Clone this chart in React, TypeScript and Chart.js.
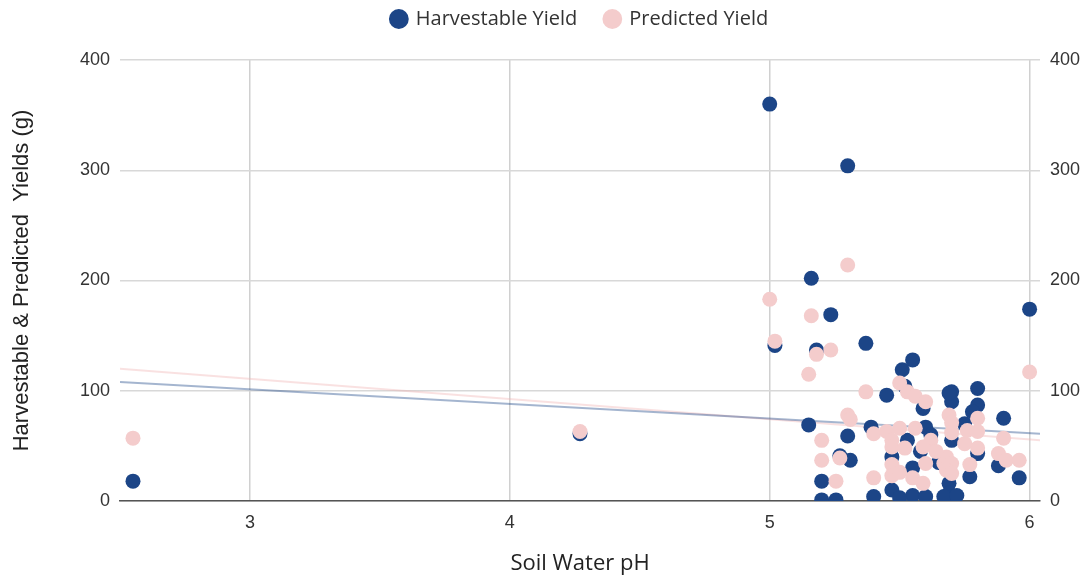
import React, { useEffect, useRef } from "react";
import { Chart, registerables } from "chart.js";

Chart.register(...registerables);

// Harvestable Yield (blue)
const harvestPH = [
  2.55, 4.27, 5.0, 5.3, 5.16, 5.02, 5.18, 5.235, 5.37, 5.15, 5.3, 5.31, 5.27, 5.2, 5.2, 5.255,
  5.4, 5.39, 5.45, 5.52, 5.51, 5.55, 5.59, 5.47, 6.0, 5.9, 5.96, 5.88, 5.7, 5.8,
  5.8, 5.7, 5.78, 5.6, 5.7, 5.8, 5.77, 5.55, 5.55, 5.6, 5.69, 5.69, 5.71, 5.67, 5.72, 5.5,
  5.47, 5.53, 5.69, 5.62, 5.58, 5.75, 5.65
];
const harvestYield = [
  18, 61, 360, 304, 202, 141, 137, 169, 143, 69, 59, 37, 41, 18, 1, 1,
  4, 67, 96, 104, 119, 128, 84, 10, 174, 75, 21, 32, 99, 102,
  87, 90, 81, 67, 55, 43, 22, 30, 5, 4, 16, 7, 4, 4, 5, 3,
  40, 55, 98, 60, 45, 70, 35
];

// Predicted Yield (pink)
const predictPH = [
  2.55, 4.27, 5.0, 5.3, 5.16, 5.02, 5.18, 5.235, 5.15, 5.3, 5.31, 5.2, 5.2, 5.27, 5.255,
  5.4, 5.4, 5.37, 5.5, 5.53, 5.56, 5.6, 5.45, 5.5, 5.56, 5.47, 5.47, 5.52, 5.62, 5.59,
  5.47, 5.6, 5.47, 5.55, 5.59, 5.5, 5.67, 6.0, 5.69, 5.7, 5.8, 5.76, 5.8, 5.7, 5.9,
  5.8, 5.88, 5.68, 5.7, 5.77, 5.91, 5.96, 5.68, 5.7, 5.75, 5.64
];
const predictYield = [
  57, 63, 183, 214, 168, 145, 133, 137, 115, 78, 74, 55, 37, 39, 18,
  21, 61, 99, 107, 99, 95, 90, 63, 66, 66, 55, 49, 48, 55, 49,
  33, 34, 23, 21, 16, 26, 34, 117, 78, 71, 75, 64, 63, 62, 57,
  48, 43, 40, 34, 33, 37, 37, 28, 25, 52, 45
];

// Trend lines
const trendPH = [2.5, 6.04];
const trendHarvest = [108, 61];
const trendPredict = [120, 55];

const xTicks = [3, 4, 5, 6];
const yTicks = [0, 100, 200, 300, 400];

const BLUE = "#1c4587";
const PINK = "#f4cccc";
const SANS = "'Liberation Sans', Arial, sans-serif";

const toPoints = (xs: number[], ys: number[]) => xs.map((x, i) => ({ x, y: ys[i] }));

const legendHeightPlugin = {
  id: "legendHeight",
  afterInit(chart: any) {
    const lg = chart.legend;
    if (!lg) return;
    const orig = lg.fit.bind(lg);
    lg.fit = () => {
      orig();
      lg.height = 79;
    };
  },
};

export default function App() {
  const ref = useRef<HTMLCanvasElement | null>(null);

  useEffect(() => {
    document.body.style.margin = "0";
    const ctx = ref.current!;
    const clip = { left: 20, right: 20, top: 20, bottom: 0 };
    const chart = new Chart(ctx, {
      type: "scatter",
      data: {
        datasets: [
          {
            label: "Harvestable Yield",
            data: toPoints(harvestPH, harvestYield),
            backgroundColor: BLUE,
            borderColor: BLUE,
            pointRadius: 7.5,
            pointHoverRadius: 7.5,
            borderWidth: 0,
            order: 2,
            clip,
          },
          {
            label: "Predicted Yield",
            data: toPoints(predictPH, predictYield),
            backgroundColor: PINK,
            borderColor: PINK,
            pointRadius: 7.5,
            pointHoverRadius: 7.5,
            borderWidth: 0,
            order: 1,
            clip,
          },
          {
            type: "line",
            label: "trendHarvest",
            data: toPoints(trendPH, trendHarvest),
            borderColor: "rgba(28,69,135,0.4)",
            borderWidth: 2,
            pointRadius: 0,
            showLine: true,
            order: 3,
          },
          {
            type: "line",
            label: "trendPredict",
            data: toPoints(trendPH, trendPredict),
            borderColor: "rgba(240,180,180,0.4)",
            borderWidth: 2,
            pointRadius: 0,
            showLine: true,
            order: 4,
          },
        ] as any,
      },
      plugins: [legendHeightPlugin],
      options: {
        animation: false,
        responsive: false,
        devicePixelRatio: 1,
        layout: { padding: { top: -19, right: 0, left: 0, bottom: 0 } },
        plugins: {
          tooltip: { enabled: false },
          legend: {
            position: "top",
            fullSize: false,
            labels: {
              usePointStyle: true,
              pointStyle: "circle",
              boxWidth: 14,
              boxHeight: 14,
              padding: 28,
              color: "#333",
              font: { family: "'Open Sans', sans-serif", size: 20 },
              filter: (item: any) => item.datasetIndex < 2,
              sort: (a: any, b: any) => a.datasetIndex - b.datasetIndex,
            },
          },
        },
        scales: {
          x: {
            type: "linear",
            min: 2.5,
            max: 6.04,
            afterBuildTicks: (scale: any) => {
              scale.ticks = xTicks.map((v) => ({ value: v }));
            },
            afterFit: (scale: any) => {
              scale.height = 81;
            },
            grid: { color: "#d0d0d0", lineWidth: 1.5, drawTicks: false },
            border: { color: "#555", width: 1.5 },
            ticks: {
              color: "#333",
              padding: 11,
              font: { family: SANS, size: 18 },
            },
            title: {
              display: true,
              text: "Soil Water pH",
              color: "#222",
              font: { family: "'Open Sans', sans-serif", size: 22 },
              padding: { top: 4, bottom: 5 },
            },
          },
          y: {
            position: "left",
            min: 0,
            max: 400,
            afterBuildTicks: (scale: any) => {
              scale.ticks = yTicks.map((v) => ({ value: v }));
            },
            afterFit: (scale: any) => {
              scale.width = 120;
            },
            grid: { color: "#d8d8d8", lineWidth: 1.5, drawTicks: false },
            border: { display: false },
            ticks: {
              color: "#333",
              padding: 10,
              font: { family: SANS, size: 18 },
            },
            title: {
              display: true,
              text: "Harvestable & Predicted  Yields (g)",
              color: "#222",
              font: { family: SANS, size: 22 },
              padding: { top: 9, bottom: 4 },
            },
          },
          y2: {
            position: "right",
            min: 0,
            max: 400,
            afterBuildTicks: (scale: any) => {
              scale.ticks = yTicks.map((v) => ({ value: v }));
            },
            afterFit: (scale: any) => {
              scale.width = 51;
            },
            grid: { display: false, drawTicks: false },
            border: { display: false },
            ticks: {
              color: "#333",
              padding: 10,
              font: { family: SANS, size: 18 },
            },
          },
        },
      } as any,
    });
    return () => chart.destroy();
  }, []);

  return (
    <div style={{ width: 1091, height: 582 }}>
      <canvas ref={ref} width={1091} height={582} />
    </div>
  );
}
